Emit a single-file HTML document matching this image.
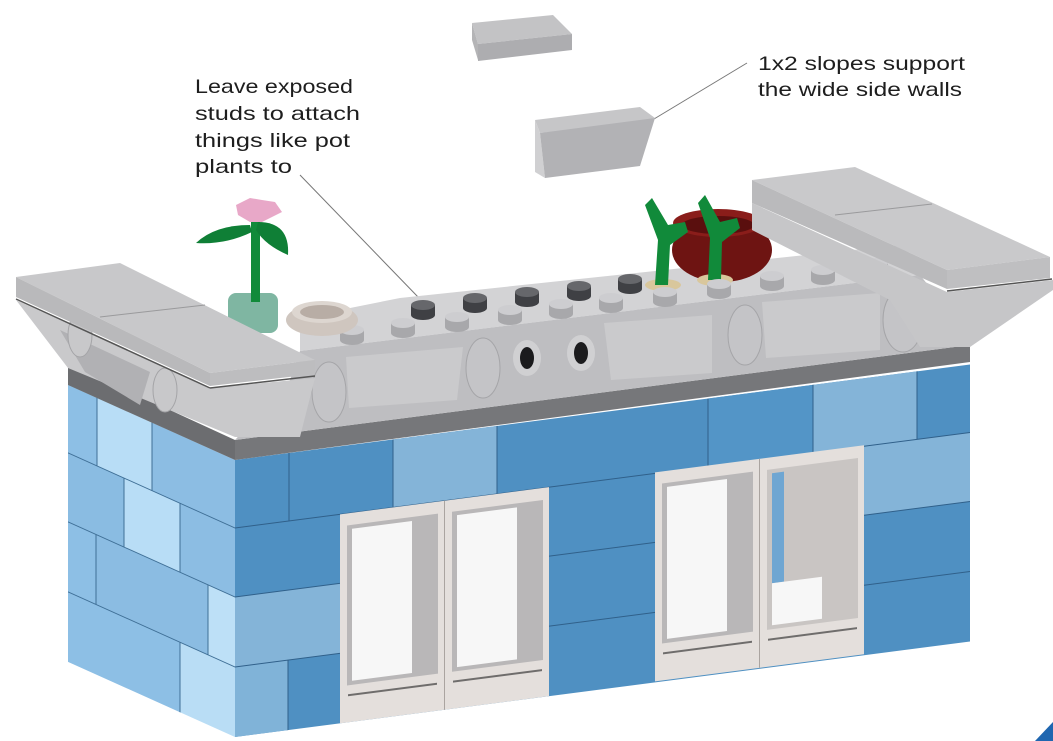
<!DOCTYPE html>
<html><head><meta charset="utf-8"><style>
html,body{margin:0;padding:0;background:#fff;}
svg{display:block;}
text{font-family:"Liberation Sans",sans-serif;font-size:19.5px;fill:#1e1e1e;}
</style></head><body>
<svg width="1053" height="741" viewBox="0 0 1053 741" xmlns="http://www.w3.org/2000/svg">
<defs>
<g id="st"><rect x="-12" y="0" width="24" height="10" fill="#a8a8ab"/><ellipse cx="0" cy="10" rx="12" ry="5" fill="#a8a8ab"/><ellipse cx="0" cy="0" rx="12" ry="5" fill="#cdcdd0"/></g>
<g id="dst"><rect x="-12" y="0" width="24" height="10" fill="#3f4044"/><ellipse cx="0" cy="10" rx="12" ry="5" fill="#3f4044"/><ellipse cx="0" cy="0" rx="12" ry="5" fill="#66676b"/></g>
</defs>

<!-- labels -->
<text x="195" y="93" textLength="158" lengthAdjust="spacingAndGlyphs">Leave exposed</text>
<text x="195" y="120" textLength="165" lengthAdjust="spacingAndGlyphs">studs to attach</text>
<text x="195" y="147" textLength="155" lengthAdjust="spacingAndGlyphs">things like pot</text>
<text x="195" y="173" textLength="97" lengthAdjust="spacingAndGlyphs">plants to</text>
<text x="758" y="70" textLength="207" lengthAdjust="spacingAndGlyphs">1x2 slopes support</text>
<text x="758" y="96" textLength="204" lengthAdjust="spacingAndGlyphs">the wide side walls</text>
<line x1="300" y1="175" x2="419" y2="298" stroke="#777" stroke-width="1"/>
<line x1="747" y1="63" x2="654" y2="119" stroke="#777" stroke-width="1"/>

<!-- floating tile -->
<polygon points="472,23 553,15 572,34 478,44" fill="#c3c3c5"/>
<polygon points="472,23 478,44 478,60 472,40" fill="#b4b4b6"/>
<polygon points="478,44 572,34 572,50 478,61" fill="#adadb0"/>
<!-- floating slope -->
<polygon points="535,120 640,107 655,118 614,126 540,133" fill="#c6c6c8"/>
<polygon points="535,120 540,133 545,178 535,172" fill="#d0d0d2"/>
<polygon points="540,133 655,118 640,166 545,178" fill="#b2b2b5"/>

<!-- left face bricks -->
<g transform="matrix(1,0.45,0,1,0,-105.75)">
<rect x="68" y="460" width="29" height="68" fill="#8dbfe5"/>
<rect x="97" y="460" width="55" height="68" fill="#b8ddf6"/>
<rect x="152" y="460" width="83" height="68" fill="#8cbde3"/>
<rect x="68" y="528" width="56" height="69" fill="#8abce2"/>
<rect x="124" y="528" width="56" height="69" fill="#b8ddf6"/>
<rect x="180" y="528" width="55" height="69" fill="#8cbde3"/>
<rect x="68" y="597" width="28" height="70" fill="#8dbfe5"/>
<rect x="96" y="597" width="112" height="70" fill="#8bbce2"/>
<rect x="208" y="597" width="27" height="70" fill="#bde0f7"/>
<rect x="68" y="667" width="112" height="70" fill="#8dbfe5"/>
<rect x="180" y="667" width="55" height="70" fill="#b9ddf5"/>
<g stroke="#3f6f96" stroke-width="1" fill="none">
<line x1="68" y1="528" x2="235" y2="528"/><line x1="68" y1="597" x2="235" y2="597"/><line x1="68" y1="667" x2="235" y2="667"/>
<line x1="97" y1="460" x2="97" y2="528"/><line x1="152" y1="460" x2="152" y2="528"/>
<line x1="124" y1="528" x2="124" y2="597"/><line x1="180" y1="528" x2="180" y2="597"/>
<line x1="96" y1="597" x2="96" y2="667"/><line x1="208" y1="597" x2="208" y2="667"/>
<line x1="180" y1="667" x2="180" y2="737"/>
</g>
</g>

<!-- front face bricks -->
<g transform="matrix(1,-0.13,0,1,0,30.55)">
<rect x="235" y="460" width="735" height="277" fill="#4f90c2"/>
<rect x="393" y="460" width="104" height="68" fill="#84b4d8"/>
<rect x="813" y="460" width="104" height="68" fill="#84b4d8"/>
<rect x="708" y="460" width="105" height="68" fill="#5395c7"/>
<rect x="864" y="528" width="106" height="69" fill="#84b4d8"/>
<rect x="235" y="597" width="105" height="70" fill="#84b4d8"/>
<rect x="235" y="667" width="53" height="70" fill="#80b3d8"/>
<g stroke="#30608a" stroke-width="1" fill="none">
<line x1="235" y1="528" x2="970" y2="528"/><line x1="235" y1="597" x2="970" y2="597"/><line x1="235" y1="667" x2="970" y2="667"/>
<line x1="289" y1="460" x2="289" y2="528"/><line x1="393" y1="460" x2="393" y2="528"/><line x1="497" y1="460" x2="497" y2="528"/>
<line x1="708" y1="460" x2="708" y2="528"/><line x1="813" y1="460" x2="813" y2="528"/><line x1="917" y1="460" x2="917" y2="528"/>
<line x1="288" y1="667" x2="288" y2="737"/>
</g>
<!-- windows -->
<g>
<rect x="340" y="528" width="209" height="209" fill="#e4dfdc"/>
<rect x="655" y="527" width="209" height="209" fill="#e4dfdc"/>
<line x1="444.5" y1="528" x2="444.5" y2="737" stroke="#aaa4a0"/>
<line x1="759.5" y1="527" x2="759.5" y2="736" stroke="#aaa4a0"/>
<!-- panes -->
<rect x="347" y="540" width="91" height="160" fill="#b9b7b8"/><rect x="352" y="544" width="60" height="152" fill="#f7f7f7"/>
<rect x="452" y="540" width="91" height="160" fill="#b9b7b8"/><rect x="457" y="544" width="60" height="152" fill="#f7f7f7"/>
<rect x="662" y="539" width="91" height="160" fill="#b9b7b8"/><rect x="667" y="543" width="60" height="152" fill="#f7f7f7"/>
<rect x="767" y="539" width="91" height="160" fill="#c9c5c3"/><rect x="772" y="543" width="12" height="110" fill="#6fa6d2"/><rect x="772" y="653" width="50" height="42" fill="#f7f7f7"/>
<g stroke="#6f6d6c" stroke-width="2">
<line x1="348" y1="710" x2="437" y2="710"/><line x1="453" y1="710" x2="542" y2="710"/>
<line x1="663" y1="709" x2="752" y2="709"/><line x1="768" y1="709" x2="857" y2="709"/>
</g>
</g>
</g>

<!-- bands -->
<polygon points="68,363 235,440 235,460 68,385" fill="#6c6d70"/>
<polygon points="235,440 970,345 970,362 235,460" fill="#76777a"/>

<!-- middle roof -->
<polygon points="300,318 400,298 900,245 920,262 920,275 300,351" fill="#d3d3d5"/>
<polygon points="300,351 920,275 940,300 970,345 235,440 290,380" fill="#bebec1"/>
<polygon points="346,357 463,347 457,400 349,408" fill="#cacacc"/>
<polygon points="604,323 712,315 712,373 611,380" fill="#cacacc"/>
<polygon points="762,302 880,293 880,350 766,358" fill="#cacacc"/>
<ellipse cx="329" cy="392" rx="17" ry="30" fill="#c4c4c7" stroke="#a5a5a8"/>
<ellipse cx="483" cy="368" rx="17" ry="30" fill="#c4c4c7" stroke="#a5a5a8"/>
<ellipse cx="745" cy="335" rx="17" ry="30" fill="#c4c4c7" stroke="#a5a5a8"/>
<ellipse cx="903" cy="320" rx="20" ry="32" fill="#c4c4c7" stroke="#a5a5a8"/>
<ellipse cx="527" cy="358" rx="14" ry="18" fill="#d0d0d2"/><ellipse cx="527" cy="358" rx="7" ry="11" fill="#1b1b1d"/>
<ellipse cx="581" cy="353" rx="14" ry="18" fill="#d0d0d2"/><ellipse cx="581" cy="353" rx="7" ry="11" fill="#1b1b1d"/>

<!-- red pot & right plants -->
<ellipse cx="722" cy="250" rx="50" ry="32" fill="#6e1412"/>
<ellipse cx="718" cy="223" rx="45" ry="14" fill="#8a1d1a"/>
<ellipse cx="718" cy="225" rx="36" ry="9" fill="#5a0f0e"/>
<ellipse cx="663" cy="285" rx="18" ry="6" fill="#d9c79c"/>
<ellipse cx="715" cy="280" rx="18" ry="6" fill="#d9c79c"/>
<path d="M655,285 L658,240 L645,205 L652,198 L668,225 L685,222 L688,232 L670,245 L668,285 Z" fill="#118a3a"/>
<path d="M708,280 L710,238 L698,203 L705,195 L720,222 L737,218 L740,228 L722,242 L721,280 Z" fill="#118a3a"/>

<!-- studs -->
<use href="#dst" x="423" y="305"/><use href="#dst" x="475" y="298"/><use href="#dst" x="527" y="292"/><use href="#dst" x="579" y="286"/><use href="#dst" x="630" y="279"/>
<use href="#st" x="352" y="330"/><use href="#st" x="403" y="323"/><use href="#st" x="457" y="317"/><use href="#st" x="510" y="310"/><use href="#st" x="561" y="304"/><use href="#st" x="611" y="298"/><use href="#st" x="665" y="292"/><use href="#st" x="719" y="284"/><use href="#st" x="772" y="276"/><use href="#st" x="823" y="270"/><use href="#st" x="876" y="263"/>

<!-- left flower -->
<rect x="228" y="293" width="50" height="40" rx="8" fill="#7fb6a2"/>
<rect x="251" y="212" width="9" height="90" fill="#118a3a"/>
<path d="M250,225 Q215,225 196,243 Q225,245 252,232 Z" fill="#0f7f36"/>
<path d="M258,222 Q290,222 288,255 Q265,245 256,230 Z" fill="#0f7f36"/>
<polygon points="236,205 250,198 262,200 275,202 282,212 270,218 262,222 250,222 238,215" fill="#e8a8c8"/>
<!-- pot -->
<ellipse cx="322" cy="320" rx="36" ry="16" fill="#cfc6bf"/>
<ellipse cx="322" cy="312" rx="30" ry="11" fill="#ddd6d0"/>
<ellipse cx="322" cy="312" rx="22" ry="7" fill="#b8ada5"/>

<!-- left cap -->
<polygon points="16,300 210,388 315,378 300,437 235,437 68,368" fill="#c9c9cb"/>
<polygon points="60,330 150,372 140,405 85,372" fill="#b1b1b4"/>
<ellipse cx="80" cy="335" rx="12" ry="22" fill="#c8c8ca" stroke="#a4a4a7"/>
<ellipse cx="165" cy="390" rx="12" ry="22" fill="#c8c8ca" stroke="#a4a4a7"/>
<polygon points="16,277 120,263 315,360 210,373" fill="#c8c8ca"/>
<polygon points="16,277 210,373 210,386 16,297" fill="#b9b9bb"/>
<polygon points="210,373 315,360 315,374 210,386" fill="#bdbdbf"/>
<line x1="16" y1="299" x2="210" y2="388" stroke="#555" stroke-width="1.5"/>
<line x1="210" y1="388" x2="315" y2="376" stroke="#555" stroke-width="1.5"/>
<line x1="100" y1="317" x2="205" y2="305" stroke="#9a9a9c" stroke-width="1"/>

<!-- right cap -->
<polygon points="752,203 947,292 1053,280 1053,290 970,347 920,347 890,300 752,230" fill="#c6c6c8"/>
<polygon points="752,180 855,167 1050,257 947,270" fill="#c9c9cb"/>
<polygon points="752,180 947,270 947,289 752,203" fill="#bababc"/>
<polygon points="947,270 1050,257 1050,278 947,289" fill="#bfbfc1"/>
<line x1="947" y1="291" x2="1052" y2="279" stroke="#555" stroke-width="1.5"/>
<line x1="835" y1="215" x2="932" y2="204" stroke="#9a9a9c" stroke-width="1"/>

<!-- corner blue mark -->
<polygon points="1053,722 1053,741 1035,741" fill="#1f66b0"/>
</svg>
</body></html>
